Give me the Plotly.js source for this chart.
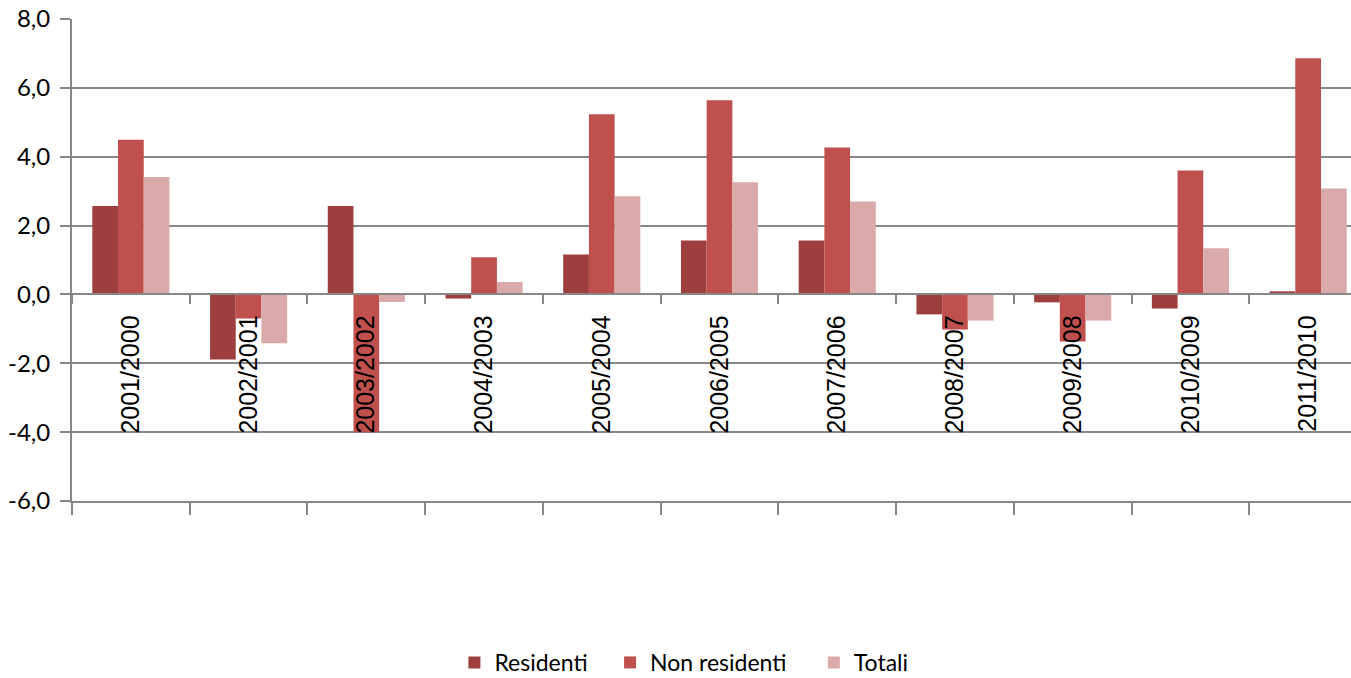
<!DOCTYPE html>
<html>
<head>
<meta charset="utf-8">
<script src="https://cdn.plot.ly/plotly-3.0.1.min.js"></script>
<style>
html,body{margin:0;padding:0;background:#fff;}
#chart{width:1351px;height:678px;}
</style>
</head>
<body>
<div id="chart"></div>
<script>
const categories = ["2001/2000","2002/2001","2003/2002","2004/2003","2005/2004","2006/2005","2007/2006","2008/2007","2009/2008","2010/2009","2011/2010"];
const residenti = [2.57, -1.89, 2.57, -0.12, 1.16, 1.57, 1.57, -0.58, -0.23, -0.41, 0.09];
const nonResidenti = [4.49, -0.70, -4.00, 1.08, 5.23, 5.64, 4.27, -1.02, -1.37, 3.60, 6.86];
const totali = [3.41, -1.42, -0.22, 0.36, 2.85, 3.26, 2.70, -0.76, -0.76, 1.34, 3.08];
const seriesNames = ["Residenti", "Non residenti", "Totali"];
const yTicks = [-6, -4, -2, 0, 2, 4, 6, 8];
const yTickText = yTicks.map(v => v.toFixed(1).replace(".", ","));

const colors = ["#9D3F3F", "#C0504D", "#DAAAAA"];
const gridCol = "#878787";
const xRange = [-0.5, 10.364];
const legendIds = ["legend", "legend2", "legend3"];
const legendX = [0.299, 0.4207, 0.58];

const traces = [residenti, nonResidenti, totali].map((vals, i) => ({
  type: "bar",
  name: seriesNames[i],
  x: categories,
  y: vals,
  marker: {color: colors[i], line: {width: 0}},
  xaxis: "x",
  yaxis: "y",
  legend: legendIds[i],
  hoverinfo: "x+y+name"
}));

// helper trace carrying the categories for the bottom tick axis
traces.push({
  type: "scatter",
  mode: "markers",
  x: categories,
  y: categories.map(() => null),
  xaxis: "x2",
  yaxis: "y",
  showlegend: false,
  hoverinfo: "skip",
  marker: {opacity: 0}
});

const legendFont = {family: "Lato, 'Open Sans', sans-serif", size: 23, color: "#000"};
function legendAt(x) {
  return {
    orientation: "h",
    x: x,
    xanchor: "left",
    y: -0.335,
    yanchor: "middle",
    font: legendFont,
    itemwidth: 30,
    maxheight: 60,
    bgcolor: "rgba(0,0,0,0)"
  };
}

const layout = {
  width: 1351,
  height: 678,
  margin: {l: 72, r: 0, t: 19, b: 177, pad: 0, autoexpand: false},
  paper_bgcolor: "#ffffff",
  plot_bgcolor: "#ffffff",
  barmode: "group",
  bargap: 0.345,
  bargroupgap: 0,
  font: {family: "Lato, 'Liberation Sans', sans-serif", size: 21, color: "#000"},
  xaxis: {
    type: "category",
    categoryorder: "array",
    categoryarray: categories,
    range: xRange,
    autorange: false,
    anchor: "free",
    position: 6 / 14,
    showgrid: false,
    zeroline: false,
    showline: true,
    linecolor: gridCol,
    linewidth: 2,
    ticks: "outside",
    tickson: "boundaries",
    ticklen: 9,
    tickwidth: 2,
    tickcolor: gridCol,
    tickangle: -90,
    ticklabelstandoff: 10,
    tickfont: {family: "'Liberation Sans', Arial, sans-serif", size: 25, color: "#000"},
    fixedrange: true
  },
  xaxis2: {
    type: "category",
    categoryorder: "array",
    categoryarray: categories,
    overlaying: "x",
    anchor: "y",
    side: "bottom",
    range: xRange,
    autorange: false,
    showgrid: false,
    zeroline: false,
    showline: true,
    linecolor: gridCol,
    linewidth: 2,
    ticks: "outside",
    tickson: "boundaries",
    ticklen: 12,
    tickwidth: 2,
    tickcolor: gridCol,
    showticklabels: false,
    fixedrange: true
  },
  yaxis: {
    range: [-6, 8],
    autorange: false,
    tickvals: yTicks,
    ticktext: yTickText,
    showgrid: true,
    gridcolor: gridCol,
    gridwidth: 2,
    zeroline: false,
    showline: true,
    linecolor: gridCol,
    linewidth: 2,
    ticks: "outside",
    ticklen: 10,
    tickwidth: 2,
    tickcolor: gridCol,
    ticklabelstandoff: 5,
    tickfont: {family: "Lato, 'Open Sans', sans-serif", size: 24, color: "#000"},
    fixedrange: true
  },
  showlegend: true,
  legend: legendAt(legendX[0]),
  legend2: legendAt(legendX[1]),
  legend3: legendAt(legendX[2])
};

Plotly.newPlot("chart", traces, layout, {displayModeBar: false, staticPlot: true});
</script>
</body>
</html>
